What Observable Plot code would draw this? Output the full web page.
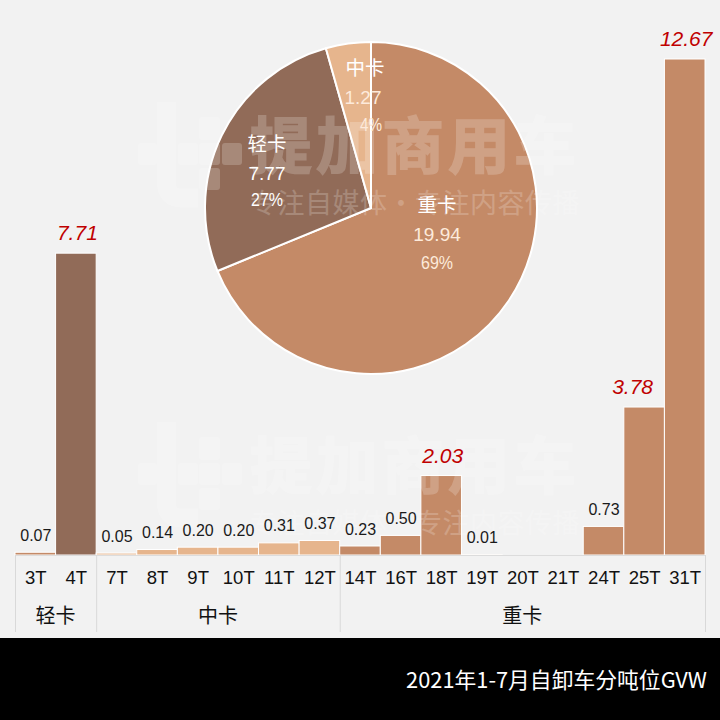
<!DOCTYPE html>
<html lang="zh">
<head>
<meta charset="utf-8">
<script src="https://cdn.jsdelivr.net/npm/d3@7"></script>
<script src="https://cdn.jsdelivr.net/npm/@observablehq/plot@0.6"></script>
<style>
html,body{margin:0;padding:0;background:#f2f2f2;width:720px;overflow:hidden}
#chart svg{display:block}
#footer{height:82px;background:#000;color:#fff;text-align:right;padding-right:13px;box-sizing:border-box;
 font:21.8px/82px "Noto Sans CJK SC","Liberation Sans",sans-serif}
</style>
</head>
<body>
<div id="chart"></div>
<div id="footer">2021年1-7月自卸车分吨位GVW</div>
<script>
const categories = ["3T","4T","7T","8T","9T","10T","11T","12T","14T","16T","18T","19T","20T","21T","24T","25T","31T"];
const values = [0.07,7.71,0.05,0.14,0.20,0.20,0.31,0.37,0.23,0.50,2.03,0.01,0,0,0.73,3.78,12.67];
const barColors = ["#c48a67","#916b58","#e6b58d","#e6b58d","#e6b58d","#e6b58d","#e6b58d","#e6b58d","#c48a67","#c48a67","#c48a67","#c48a67","#c48a67","#c48a67","#c48a67","#c48a67","#c48a67"];
const highlighted = ["4T","18T","31T"];
const shiftedHighlight = ["25T"];
const groupNames = ["轻卡","中卡","重卡"];
const groupCategories = [["3T","4T"],["7T","8T","9T","10T","11T","12T"],["14T","16T","18T","19T","20T","21T","24T","25T","31T"]];
const pieNames = ["重卡","轻卡","中卡"];
const pieValues = [19.94,7.77,1.27];
const piePercents = ["69%","27%","4%"];
const pieColors = ["#c48a67","#916b58","#e6b58d"];

const table = categories.map((c,i)=>({c,v:values[i],color:barColors[i]}));
const labelled = table.filter(d=>d.v>0);
const W=720,H=638,ML=15,MR=15,MT=59,MB=83;
const bw=(W-ML-MR)/categories.length;
const fontFamily='"Liberation Sans","Noto Sans CJK SC",sans-serif';
const cjk='"Noto Sans CJK SC",sans-serif';

function pieMark(){
  const g=d3.create("svg:g");
  const cx=371,cy=208,r=166;
  const arcs=d3.pie().sort(null).value(d=>d)(pieValues);
  const arc=d3.arc().innerRadius(0).outerRadius(r);
  g.selectAll("path").data(arcs).join("path")
    .attr("transform",`translate(${cx},${cy})`)
    .attr("d",arc).attr("fill",(d,i)=>pieColors[i])
    .attr("stroke","#fff").attr("stroke-width",2).attr("stroke-linejoin","round");
  return g.node();
}
function watermark(dy,op){
  return ()=>{
    const g=d3.create("svg:g").attr("fill","#fff").attr("opacity",op).attr("text-anchor","start").attr("transform",`translate(0,${dy})`);
    [[138,143,19,22],[178,143,20,22],[199,143,21,22],[222,143,20,22],[199,117,21,23],[199,168,21,22]].forEach(([x,y,w,h])=>
      g.append("rect").attr("x",x).attr("y",y).attr("width",w).attr("height",h).attr("rx",3));
    g.append("path").attr("d","M166.5,102V183Q166.5,198 182,198H198").attr("fill","none").attr("stroke","#fff").attr("stroke-width",19);
    g.append("text").attr("x",250).attr("y",169).attr("font-family",cjk).attr("font-weight",700).attr("font-size",62).attr("letter-spacing",4)
      .attr("stroke","#fff").attr("stroke-width",1.5).attr("paint-order","stroke").text("提加商用车");
    g.append("text").attr("x",250).attr("y",213).attr("font-family",cjk).attr("font-size",27).attr("letter-spacing",0.5).text("专注自媒体·专注内容传播");
    return g.node();
  };
}
function pieLabels(){
  const g=d3.create("svg:g").attr("text-anchor","middle");
  const pos=[[437,234],[267,173],[363,97]];
  const pctY=[269,206,131];
  pieNames.forEach((n,i)=>{
    const [x,y]=pos[i];
    g.append("text").attr("x",i==2?365:x).attr("y",y-22).attr("fill","#fff").attr("font-family",cjk).attr("font-size",19.5).text(n);
    g.append("text").attr("x",x).attr("y",y+7).attr("fill",i==1?"#fff":"#fdeadb").attr("font-family",fontFamily).attr("font-size",19).text(pieValues[i].toFixed(2));
    g.append("text").attr("x",i==2?371:x).attr("y",pctY[i]).attr("fill",i==1?"#fff":"#fdeadb").attr("font-family",fontFamily).attr("font-size",18.5).attr("textLength",i==2?22:32).attr("lengthAdjust","spacingAndGlyphs").text(piePercents[i]);
  });
  return g.node();
}

const isRed=d=>highlighted.includes(d.c)||shiftedHighlight.includes(d.c);
const redStyle={x:"c",y:"v",text:d=>d.v.toFixed(2),dy:-20,fontSize:21,fontStyle:"italic",fill:"#c00000"};

const plot=Plot.plot({
  width:W,height:H,marginLeft:ML,marginRight:MR,marginTop:MT,marginBottom:MB,
  style:{background:"#f2f2f2",fontFamily,overflow:"visible"},
  x:{domain:categories,padding:0,round:false,axis:null,label:null},
  y:{domain:[0,12.67],axis:null,label:null},
  color:{type:"identity"},
  marks:[
    Plot.barY(table,{x:"c",y:"v",fill:"color",stroke:"#fff",strokeWidth:1}),
    Plot.ruleY([0],{stroke:"#dcdcdc",strokeWidth:1}),
    ...groupCategories.map(cs=>Plot.ruleX([cs[0]],{y1:0,y2:0,insetBottom:-77,dx:-bw/2,stroke:"#d9d9d9",strokeWidth:1})),
    Plot.ruleX([categories[categories.length-1]],{y1:0,y2:0,insetBottom:-77,dx:bw/2,stroke:"#d9d9d9",strokeWidth:1}),
    Plot.axisX({domain:categories,anchor:"bottom",tickSize:0,tickPadding:15,fontSize:18.5,label:null,fill:"#111",color:"#111"}),
    ...groupNames.map((n,i)=>Plot.text([n],{x:()=>groupCategories[i][0],frameAnchor:"bottom",dx:(groupCategories[i].length-1)*bw/2-0.5,dy:67,text:d=>d,fontSize:20,fontFamily:cjk,fill:"#111"})),
    pieMark,
    watermark(0,0.2),
    watermark(320,0.2),
    pieLabels,
    Plot.text(labelled.filter(d=>!isRed(d)),{x:"c",y:"v",text:d=>d.v.toFixed(2),dy:-17,fontSize:16,fill:"#1a1a1a"}),
    Plot.text(labelled.filter(d=>highlighted.includes(d.c)),{...redStyle,dx:1}),
    Plot.text(labelled.filter(d=>shiftedHighlight.includes(d.c)),{...redStyle,dx:-12})
  ]
});
document.getElementById("chart").append(plot);
</script>
</body>
</html>
